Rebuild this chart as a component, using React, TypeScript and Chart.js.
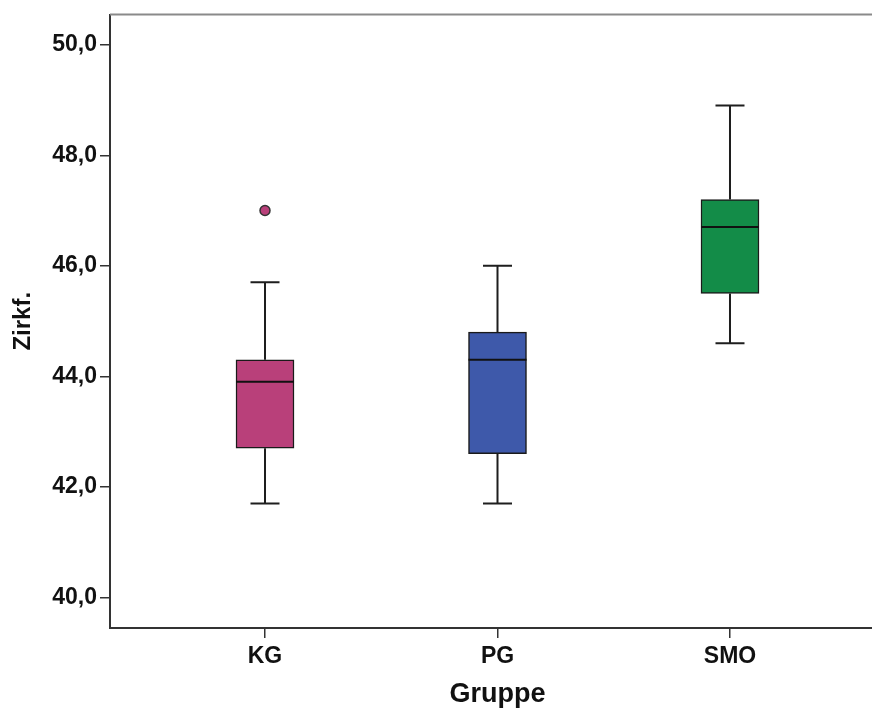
import { useEffect, useRef } from 'react';
import { Chart, registerables } from 'chart.js';

Chart.register(...registerables);

// Group names and their positions on the x axis
const groups = ['KG', 'PG', 'SMO'];
const groupPositions = [1, 2, 3];

// Five-number summaries per group
const whiskerLow = [41.7, 41.7, 44.6];
const quartile1 = [42.7, 42.6, 45.5];
const medians = [43.9, 44.3, 46.7];
const quartile3 = [44.3, 44.8, 47.2];
const whiskerHigh = [45.7, 46.0, 48.9];

// Outliers (group position, value)
const outlierGroup = [1];
const outlierValues = [47.0];

const boxColors = ['#b9407a', '#3e59aa', '#138c48'];
const yTicks = [40, 42, 44, 46, 48, 50];

const FONT = '"Liberation Sans", Arial, sans-serif';
const BOX_WIDTH = 58;
const CAP_WIDTH = 29;

const whiskerPlugin = {
  id: 'boxWhiskers',
  beforeDatasetsDraw(chart: any) {
    const { ctx, scales } = chart;
    const x = scales.x;
    const y = scales.y;
    ctx.save();
    ctx.strokeStyle = '#1e1e1e';
    ctx.lineWidth = 2;
    groupPositions.forEach((g, i) => {
      const px = x.getPixelForValue(g);
      const pLow = y.getPixelForValue(whiskerLow[i]);
      const pQ1 = y.getPixelForValue(quartile1[i]);
      const pQ3 = y.getPixelForValue(quartile3[i]);
      const pHigh = y.getPixelForValue(whiskerHigh[i]);
      ctx.beginPath();
      ctx.moveTo(px, pQ1);
      ctx.lineTo(px, pLow);
      ctx.moveTo(px, pQ3);
      ctx.lineTo(px, pHigh);
      ctx.moveTo(px - CAP_WIDTH / 2, pLow);
      ctx.lineTo(px + CAP_WIDTH / 2, pLow);
      ctx.moveTo(px - CAP_WIDTH / 2, pHigh);
      ctx.lineTo(px + CAP_WIDTH / 2, pHigh);
      ctx.stroke();
    });
    ctx.restore();
  },
  afterDatasetsDraw(chart: any) {
    const { ctx, scales } = chart;
    const x = scales.x;
    const y = scales.y;
    ctx.save();
    ctx.strokeStyle = '#111';
    ctx.lineWidth = 2;
    groupPositions.forEach((g, i) => {
      const px = x.getPixelForValue(g);
      const pm = y.getPixelForValue(medians[i]);
      ctx.beginPath();
      ctx.moveTo(px - BOX_WIDTH / 2, pm);
      ctx.lineTo(px + BOX_WIDTH / 2, pm);
      ctx.stroke();
    });
    ctx.restore();
  },
  afterDraw(chart: any) {
    // grey top edge of the plot frame
    const { ctx, chartArea } = chart;
    ctx.save();
    ctx.strokeStyle = '#8a8a8a';
    ctx.lineWidth = 2;
    ctx.beginPath();
    ctx.moveTo(chartArea.left, chartArea.top);
    ctx.lineTo(chart.width, chartArea.top);
    ctx.stroke();
    ctx.restore();
  },
};

export default function App() {
  const canvasRef = useRef<HTMLCanvasElement | null>(null);

  useEffect(() => {
    if (!canvasRef.current) return;
    const chart = new Chart(canvasRef.current, {
      type: 'bar',
      data: {
        datasets: [
          {
            type: 'bar',
            data: groupPositions.map((g, i) => ({ x: g, y: [quartile1[i], quartile3[i]] })) as any,
            backgroundColor: boxColors,
            borderColor: '#1a1a1a',
            borderWidth: 1.5,
            borderSkipped: false,
            barThickness: BOX_WIDTH,
            order: 2,
          },
          {
            type: 'scatter',
            data: outlierGroup.map((g, i) => ({ x: g, y: outlierValues[i] })),
            pointRadius: 5,
            pointBackgroundColor: outlierGroup.map((g) => boxColors[groupPositions.indexOf(g)]),
            pointBorderColor: '#333',
            pointBorderWidth: 1.5,
            order: 1,
          } as any,
        ],
      },
      options: {
        responsive: false,
        animation: false,
        layout: { autoPadding: false, padding: { top: 13, left: 0, right: 0, bottom: 0 } },
        plugins: {
          legend: { display: false },
          tooltip: { enabled: false },
        },
        scales: {
          x: {
            type: 'linear',
            offset: false,
            min: 0.3333,
            max: 3.6667,
            afterBuildTicks: (s: any) => {
              s.ticks = groupPositions.map((v) => ({ value: v }));
            },
            afterFit: (s: any) => {
              s.height = 83;
            },
            ticks: {
              callback: (v: any) => groups[groupPositions.indexOf(Number(v))] ?? '',
              font: { family: FONT, size: 23, weight: 'bold' },
              color: '#111',
              padding: 5,
              maxRotation: 0,
              autoSkip: false,
            },
            grid: {
              offset: false,
              drawOnChartArea: false,
              drawTicks: true,
              tickLength: 10,
              color: '#333',
              lineWidth: 1.5,
            },
            border: { display: true, color: '#333', width: 2 },
            title: {
              display: true,
              text: 'Gruppe',
              color: '#111',
              font: { family: FONT, size: 27, weight: 'bold' },
              padding: { top: 0, bottom: 0 },
            },
          },
          y: {
            type: 'linear',
            min: 39.446,
            max: 50.547,
            afterBuildTicks: (s: any) => {
              s.ticks = yTicks.map((v) => ({ value: v }));
            },
            afterFit: (s: any) => {
              s.width = 110;
            },
            ticks: {
              callback: (v: any) => Number(v).toFixed(1).replace('.', ','),
              font: { family: FONT, size: 23, weight: 'bold', lineHeight: 1 },
              color: '#111',
              padding: 3,
            },
            grid: {
              drawOnChartArea: false,
              drawTicks: true,
              tickLength: 10,
              color: '#333',
              lineWidth: 1.5,
            },
            border: { display: true, color: '#333', width: 2 },
            title: {
              display: true,
              text: 'Zirkf.',
              color: '#111',
              font: { family: FONT, size: 24, weight: 'bold' },
              padding: { top: 9, bottom: 0 },
            },
          },
        },
      },
      plugins: [whiskerPlugin],
    });
    return () => chart.destroy();
  }, []);

  return (
    <div
      style={{
        position: 'fixed',
        left: 0,
        top: 0,
        width: 872,
        height: 711,
        overflow: 'hidden',
        background: '#fff',
      }}
    >
      <canvas ref={canvasRef} width={885} height={711} style={{ display: 'block' }} />
    </div>
  );
}
